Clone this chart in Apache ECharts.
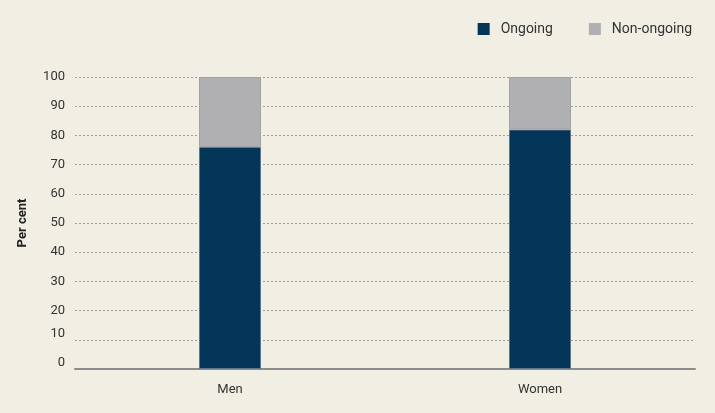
<!DOCTYPE html>
<html><head><meta charset="utf-8">
<script src="https://cdn.jsdelivr.net/npm/echarts@6/dist/echarts.min.js"></script>
<style>html,body{margin:0;padding:0;background:#f1eee4;}#c{width:715px;height:413px;}</style>
</head><body><div id="c"></div>
<script>
const categories = ['Men', 'Women'];
const ongoing = [76, 82];
const nonOngoing = [24, 18];
const yTicks = [0, 100, 10];

const chart = echarts.init(document.getElementById('c'));
chart.setOption({
  backgroundColor: '#f1eee4',
  textStyle: { fontFamily: 'Roboto, "DejaVu Sans", sans-serif' },
  legend: {
    top: 17, right: 18, itemWidth: 12, itemHeight: 12, itemGap: 36,
    icon: 'rect',
    itemStyle: { borderWidth: 0 },
    textStyle: { color: '#333', fontSize: 14, padding: [0, 0, 0, 6] },
    data: ['Ongoing', 'Non-ongoing']
  },
  grid: { left: 75, right: 20, top: 77, bottom: 44 },
  xAxis: {
    type: 'category', data: categories,
    axisLine: { lineStyle: { color: '#8c8c8c', width: 2 } },
    axisTick: { show: false },
    axisLabel: { color: '#333', fontSize: 13, margin: 14 }
  },
  yAxis: {
    type: 'value', min: yTicks[0], max: yTicks[1], interval: yTicks[2],
    name: 'Per cent', nameLocation: 'middle', nameGap: 46, nameRotate: 90,
    nameTextStyle: { fontWeight: 'bold', color: '#222', fontSize: 13 },
    axisLine: { show: false }, axisTick: { show: false },
    axisLabel: {
      color: '#333', fontSize: 13, margin: 10,
      formatter: function (v) { return v <= 10 ? '{u|' + v + '}' : String(v); },
      rich: { u: { color: '#333', fontSize: 13, padding: [0, 0, 12, 0] } }
    },
    splitLine: { lineStyle: { color: '#a0a0a0', type: [2, 2], width: 1 } }
  },
  series: [
    { name: 'Ongoing', type: 'bar', stack: 's', data: ongoing, barWidth: '20%',
      itemStyle: { color: '#023557', borderColor: '#5f7587', borderWidth: 1 } },
    { name: 'Non-ongoing', type: 'bar', stack: 's', data: nonOngoing, barWidth: '20%',
      itemStyle: { color: '#b0b0b2', borderColor: '#a2a2a4', borderWidth: 1 } }
  ]
});
</script></body></html>
